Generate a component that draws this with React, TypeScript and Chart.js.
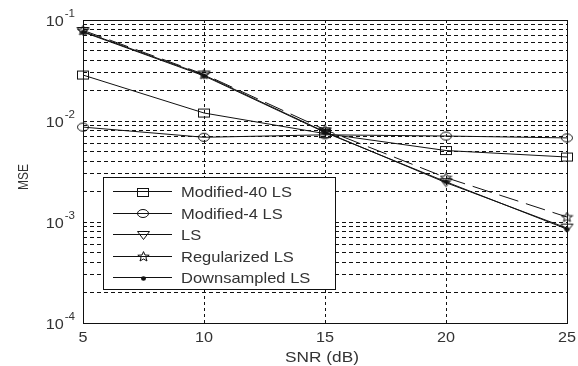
import React, { useEffect, useRef } from "react";
import { Chart, registerables } from "chart.js";

Chart.register(...registerables);

const SNR = [5, 10, 15, 20, 25];
const X_TICKS = [5, 10, 15, 20, 25];
const Y_EXPONENTS = [-4, -3, -2, -1];
const MOD40 = [0.0285, 0.012, 0.0075, 0.0051, 0.0044];
const MOD4 = [0.0087, 0.0069, 0.0073, 0.0071, 0.0068];
const LS = [0.077, 0.0285, 0.0078, 0.00245, 0.00087];
const REG = [0.079, 0.029, 0.0082, 0.00275, 0.00112];
const DOWN = [0.076, 0.028, 0.0077, 0.0025, 0.00085];
const LEGEND_LABELS = ["Modified-40 LS", "Modified-4 LS", "LS", "Regularized LS", "Downsampled LS"];

const FONT = "'Liberation Sans', Arial, sans-serif";
const TEXT = "#333";
const INK = "#111";

function makeMarker(w: number, h: number, draw: (c: CanvasRenderingContext2D) => void) {
  const cv = document.createElement("canvas");
  cv.width = w;
  cv.height = h;
  const c = cv.getContext("2d")!;
  c.strokeStyle = INK;
  c.fillStyle = INK;
  c.lineWidth = 1;
  draw(c);
  return cv;
}

function drawText(ctx: CanvasRenderingContext2D, text: string, x: number, y: number, size: number, align: "left" | "center" | "right", sx = 1) {
  ctx.save();
  ctx.font = `${size}px ${FONT}`;
  ctx.textBaseline = "alphabetic";
  const w = ctx.measureText(text).width * sx;
  let x0 = x;
  if (align === "center") x0 = x - w / 2;
  if (align === "right") x0 = x - w;
  ctx.translate(x0, y);
  ctx.scale(sx, 1);
  ctx.fillText(text, 0, 0);
  ctx.restore();
  return w;
}

export default function App() {
  const ref = useRef<HTMLCanvasElement | null>(null);

  useEffect(() => {
    const canvas = ref.current!;
    const square = makeMarker(14, 11, (c) => c.strokeRect(1.5, 1.5, 11, 8));
    const circle = makeMarker(14, 11, (c) => {
      c.beginPath();
      c.ellipse(7, 5.5, 5.5, 4, 0, 0, Math.PI * 2);
      c.stroke();
    });
    const tri = makeMarker(15, 11, (c) => {
      c.beginPath();
      c.moveTo(1.5, 1.5);
      c.lineTo(13.5, 1.5);
      c.lineTo(7.5, 9.5);
      c.closePath();
      c.stroke();
    });
    const star = makeMarker(13, 11, (c) => {
      c.beginPath();
      const cx = 6.5, cy = 5.8, R = 5.2, r = 2.2;
      for (let i = 0; i < 10; i++) {
        const a = -Math.PI / 2 + (i * Math.PI) / 5;
        const rr = i % 2 === 0 ? R : r;
        const px = cx + rr * Math.cos(a) * 1.15;
        const py = cy + rr * Math.sin(a);
        if (i === 0) c.moveTo(px, py);
        else c.lineTo(px, py);
      }
      c.closePath();
      c.stroke();
    });
    const dot = makeMarker(7, 7, (c) => {
      c.beginPath();
      c.ellipse(3.5, 3.5, 2.5, 2.2, 0, 0, Math.PI * 2);
      c.fill();
    });
    const markers = [square, circle, tri, star, dot];
    const dashes = [[], [], [], [20, 8], []];
    const series = [MOD40, MOD4, LS, REG, DOWN];

    const overlay = {
      id: "overlay",
      afterDraw(chart: any) {
        const ctx = chart.ctx as CanvasRenderingContext2D;
        const { left, right, top, bottom } = chart.chartArea;
        const xs = chart.scales.x;
        const ys = chart.scales.y;
        ctx.save();
        ctx.strokeStyle = INK;
        ctx.lineWidth = 1;
        ctx.strokeRect(Math.round(left) + 0.5, Math.round(top) + 0.5, Math.round(right - left), Math.round(bottom - top));
        ctx.fillStyle = TEXT;
        // y tick labels
        for (const e of Y_EXPONENTS) {
          const y = ys.getPixelForValue(Math.pow(10, e));
          const expW = drawText(ctx, String(e), left - 8, y - 3, 11, "right", 1.05);
          drawText(ctx, "10", left - 8 - expW - 1, y + 5.5, 15, "right", 1.08);
        }
        // x tick labels
        for (const v of X_TICKS) {
          drawText(ctx, String(v), xs.getPixelForValue(v), bottom + 18.5, 15, "center", 1.08);
        }
        drawText(ctx, "SNR (dB)", (left + right) / 2 - 3, 362, 15, "center", 1.15);
        ctx.save();
        ctx.translate(28, 177);
        ctx.rotate(-Math.PI / 2);
        drawText(ctx, "MSE", 0, 0, 14, "center", 0.85);
        ctx.restore();
        // legend
        const lx = 103.5, ly = 177.5, lw = 232, lh = 112;
        ctx.fillStyle = "#fff";
        ctx.fillRect(lx, ly, lw, lh);
        ctx.strokeStyle = INK;
        ctx.strokeRect(lx, ly, lw, lh);
        ctx.fillStyle = TEXT;
        for (let i = 0; i < LEGEND_LABELS.length; i++) {
          const ry = 191 + i * 21.5;
          ctx.beginPath();
          ctx.moveTo(113, Math.round(ry) + 0.5);
          ctx.lineTo(172, Math.round(ry) + 0.5);
          ctx.stroke();
          const m = markers[i];
          ctx.drawImage(m, Math.round(143 - m.width / 2), Math.round(ry - m.height / 2) + 1);
          drawText(ctx, LEGEND_LABELS[i], 181, ry + 6, 15, "left", 1.1);
        }
        ctx.restore();
      },
    };

    const chart = new Chart(canvas, {
      type: "line",
      data: {
        labels: SNR,
        datasets: series.map((d, i) => ({
          label: LEGEND_LABELS[i],
          data: d.map((v, j) => ({ x: SNR[j], y: v })),
          borderColor: INK,
          backgroundColor: INK,
          borderWidth: 1,
          borderDash: dashes[i] as number[],
          pointStyle: markers[i] as any,
          pointRadius: 5,
          pointHoverRadius: 5,
          fill: false,
          tension: 0,
          clip: false as any,
        })),
      },
      options: {
        animation: false,
        responsive: false,
        maintainAspectRatio: false,
        devicePixelRatio: 1,
        layout: { padding: { left: 0, right: 11, top: 20, bottom: 0 } },
        plugins: { legend: { display: false }, tooltip: { enabled: false } },
        scales: {
          x: {
            type: "linear",
            min: 5,
            max: 25,
            ticks: { display: false, stepSize: 5 },
            grid: { color: INK, lineWidth: 1, drawTicks: false },
            border: { display: false, dash: [3, 3] },
            afterFit: (s: any) => {
              s.height = 43;
            },
          },
          y: {
            type: "logarithmic",
            min: 1e-4,
            max: 1e-1,
            ticks: { display: false },
            grid: { color: INK, lineWidth: 1, drawTicks: false },
            border: { display: false, dash: [4, 3] },
            afterBuildTicks: (s: any) => {
              const t: { value: number }[] = [];
              for (let e = -4; e < -1; e++) {
                for (let m = 1; m <= 9; m++) t.push({ value: m * Math.pow(10, e) });
              }
              t.push({ value: 0.1 });
              s.ticks = t;
            },
            afterFit: (s: any) => {
              s.width = 83;
            },
          },
        },
      } as any,
      plugins: [overlay],
    });
    return () => chart.destroy();
  }, []);

  return (
    <div style={{ position: "fixed", left: 0, top: 0, width: 578, height: 366, background: "#fff" }}>
      <canvas ref={ref} width={578} height={366} style={{ width: 578, height: 366, display: "block" }} />
    </div>
  );
}
